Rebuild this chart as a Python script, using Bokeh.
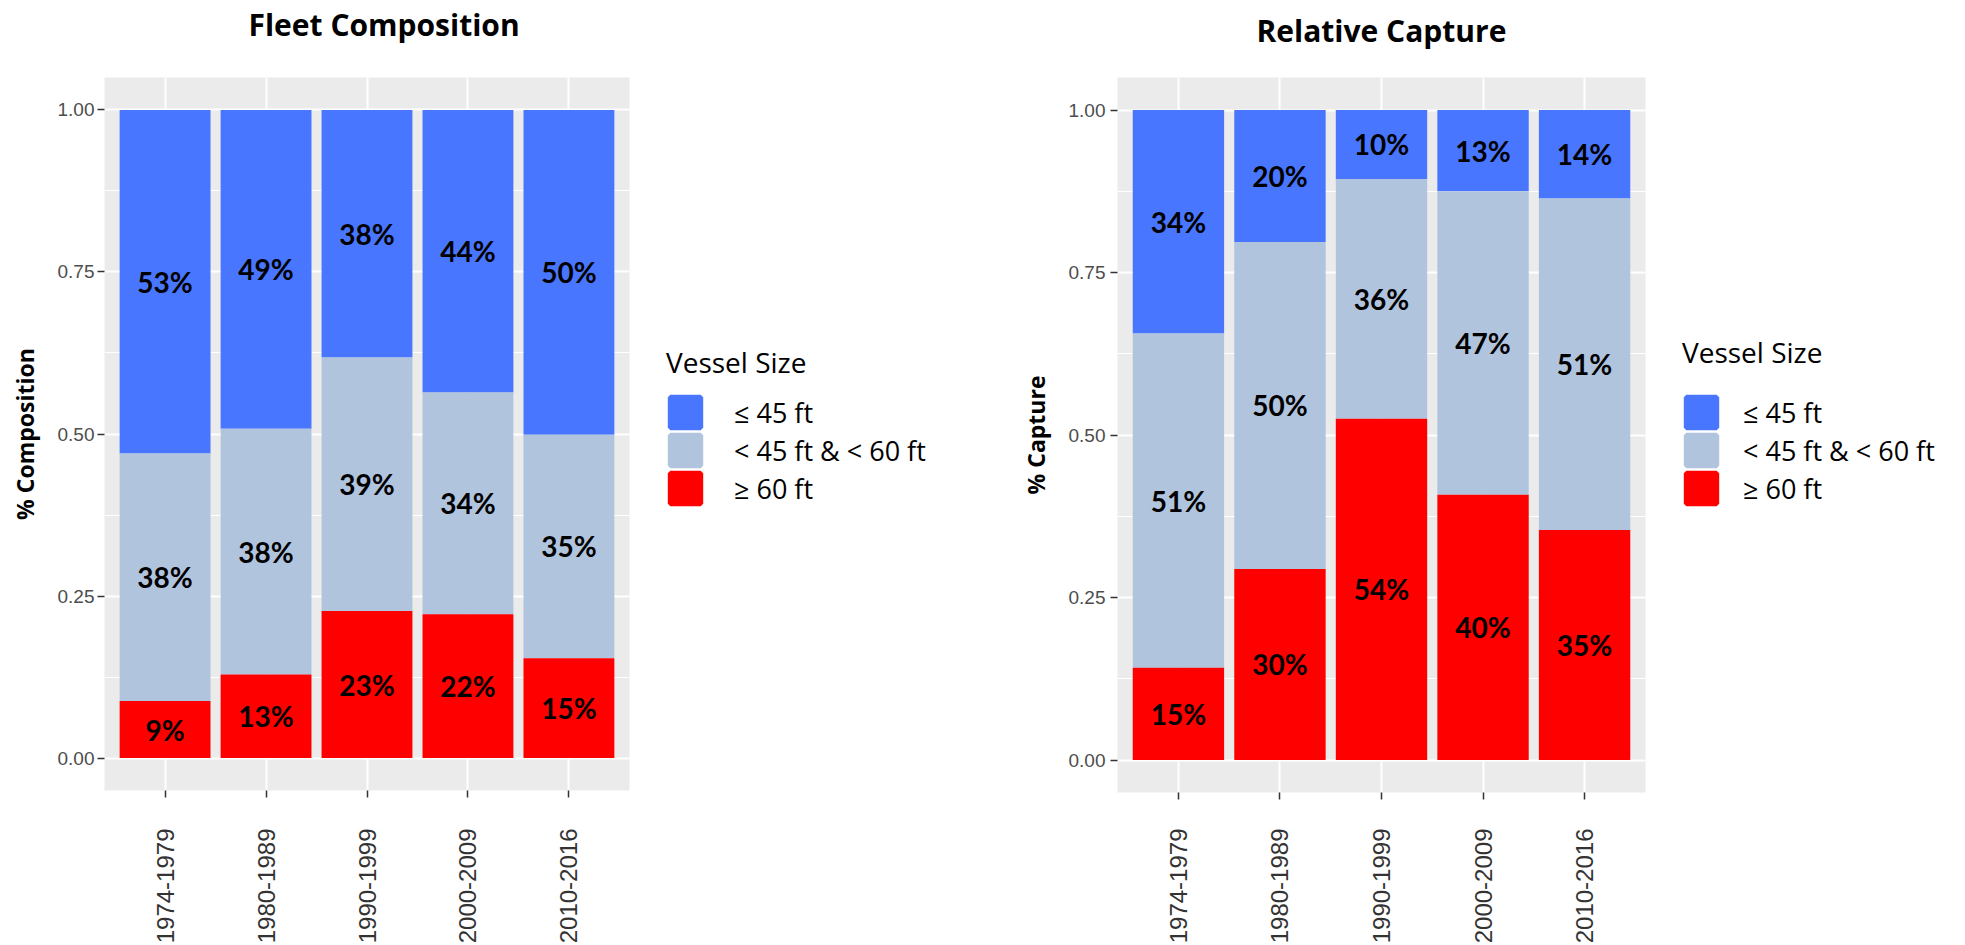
import numpy as np
from bokeh.plotting import figure
from bokeh.models import (ColumnDataSource, Range1d, FixedTicker, Legend,
                          LegendItem, Title, LinearAxis)
from bokeh.layouts import row
from bokeh.core.properties import value
from bokeh.embed import file_html
from bokeh.resources import INLINE

# ---------------- data ----------------
periods = ["1974-1979", "1980-1989", "1990-1999", "2000-2009", "2010-2016"]
size_classes = ["\u2264 45 ft", "< 45 ft & < 60 ft", "\u2265 60 ft"]
size_colors = ["#4876FF", "#B0C4DE", "#FF0000"]

# Fleet composition (shares of fleet)
fleet_small = [0.530, 0.492, 0.382, 0.436, 0.501]
fleet_mid = [0.382, 0.379, 0.391, 0.342, 0.345]
fleet_large = [0.088, 0.129, 0.227, 0.222, 0.154]
fleet_pct_small = [53, 49, 38, 44, 50]
fleet_pct_mid = [38, 38, 39, 34, 35]
fleet_pct_large = [9, 13, 23, 22, 15]

# Relative capture (shares of catch)
capture_small = [0.344, 0.203, 0.106, 0.125, 0.136]
capture_mid = [0.514, 0.503, 0.369, 0.467, 0.510]
capture_large = [0.142, 0.294, 0.525, 0.408, 0.354]
capture_pct_small = [34, 20, 10, 13, 14]
capture_pct_mid = [51, 50, 36, 47, 51]
capture_pct_large = [15, 30, 54, 40, 35]

y_ticks = [0.0, 0.25, 0.5, 0.75, 1.0]
y_minor = [0.125, 0.375, 0.625, 0.875]

BARFONT = "Lato"
FONT = "Open Sans"
TICKFONT = "Liberation Sans"
PAGE_H = 945


def make_panel(title, ylabel, small, mid, large, pct_small, pct_mid, pct_large, lay):
    xs = list(range(1, len(periods) + 1))
    x0, x1 = 0.4, len(periods) + 0.6
    small = np.array(small)
    mid = np.array(mid)
    large = np.array(large)
    top_large = large
    top_mid = large + mid
    top_small = top_mid + small

    p = figure(frame_width=lay["fw"], frame_height=lay["fh"], title=None,
               x_range=Range1d(x0, x1), y_range=Range1d(-0.05, 1.05),
               output_backend="svg", toolbar_location=None,
               min_border_left=lay["left"], min_border_right=lay["right"],
               min_border_top=lay["top"], min_border_bottom=lay["bottom"])
    p.background_fill_color = "#EBEBEB"
    p.border_fill_color = "white"
    p.outline_line_color = None

    segs = [
        (top_mid, top_small, size_colors[0], pct_small),
        (top_large, top_mid, size_colors[1], pct_mid),
        (np.zeros(len(xs)), top_large, size_colors[2], pct_large),
    ]
    sources = []
    for bottom, top, color, pct in segs:
        src = ColumnDataSource(dict(x=xs, bottom=bottom, top=top,
                                    mid=(bottom + top) / 2,
                                    lab=[f"{v}%" for v in pct]))
        sources.append(src)
        p.vbar(x="x", bottom="bottom", top="top", width=0.9, source=src,
               fill_color=color, line_color=None)
        p.text(x="x", y="mid", text="lab", source=src,
               text_font=value(BARFONT), text_font_style="bold",
               text_font_size="28px", text_color="black",
               text_align="center", text_baseline="middle")

    # grids
    p.xgrid.ticker = FixedTicker(ticks=xs)
    p.xgrid.grid_line_color = "white"
    p.xgrid.grid_line_width = 2
    p.ygrid.ticker = FixedTicker(ticks=y_ticks, minor_ticks=y_minor)
    p.ygrid.grid_line_color = "white"
    p.ygrid.grid_line_width = 2
    p.ygrid.minor_grid_line_color = "white"
    p.ygrid.minor_grid_line_width = 1

    # y axis
    ya = p.left[0]
    ya.ticker = FixedTicker(ticks=y_ticks)
    ya.major_label_overrides = {t: f"{t:.2f}" for t in y_ticks}
    ya.axis_line_color = None
    ya.major_tick_line_color = "#333333"
    ya.major_tick_line_width = 1.5
    ya.major_tick_out = 7
    ya.major_tick_in = 0
    ya.minor_tick_line_color = None
    ya.major_label_text_font = TICKFONT
    ya.major_label_text_font_size = "19px"
    ya.major_label_text_color = "#4D4D4D"
    ya.major_label_standoff = lay["ylab_standoff"]
    ya.axis_label = ylabel
    ya.axis_label_text_font = FONT
    ya.axis_label_text_font_style = "bold"
    ya.axis_label_text_font_size = "23px"
    ya.axis_label_text_color = "black"
    ya.axis_label_standoff = 14

    # x axis
    xa = p.below[0]
    xa.ticker = FixedTicker(ticks=xs)
    xa.major_label_overrides = {x: name for x, name in zip(xs, periods)}
    xa.major_label_orientation = np.pi / 2
    xa.axis_line_color = None
    xa.major_tick_line_color = "#333333"
    xa.major_tick_line_width = 1.5
    xa.major_tick_out = 7
    xa.major_tick_in = 0
    xa.minor_tick_line_color = None
    xa.major_label_text_font = TICKFONT
    xa.major_label_text_font_size = "24px"
    xa.major_label_text_color = "#333333"
    xa.major_label_standoff = lay["xlab_standoff"]

    # empty band between the title and the panel (invisible ticks)
    gap = LinearAxis(ticker=FixedTicker(ticks=xs), axis_line_color=None,
                     major_tick_line_color=None, minor_tick_line_color=None,
                     major_tick_out=lay["title_gap"], major_tick_in=0,
                     minor_tick_out=0, major_label_standoff=0,
                     major_label_overrides={x: "" for x in xs},
                     major_label_text_font_size="1px")
    p.add_layout(gap, "above")
    p.add_layout(Title(text=title, align="left", offset=lay["title_offset"],
                       text_font=FONT, text_font_style="bold",
                       text_font_size="30px", text_color="black",
                       standoff=0), "above")
    return p, sources


def make_legend(width, sources, lay):
    n = len(periods)
    lg = figure(width=width, height=PAGE_H, x_axis_type=None, y_axis_type=None,
                x_range=Range1d(n + 2, n + 3), y_range=Range1d(2, 3),
                output_backend="svg", toolbar_location=None,
                min_border=0, min_border_left=0, min_border_right=0,
                min_border_top=0, min_border_bottom=0)
    lg.outline_line_color = None
    lg.background_fill_color = "white"
    lg.border_fill_color = "white"
    # legend keys: same bars as the panel; hidden here, only their legend swatch shows
    rs = []
    for src, c in zip(sources, size_colors):
        r = lg.vbar(x="x", bottom="bottom", top="top", width=0.9, source=src,
                    fill_color=c, line_color=c, line_width=5)
        r.visible = False
        rs.append(r)
    legend = Legend(items=[LegendItem(label=lbl, renderers=[r])
                           for lbl, r in zip(size_classes, rs)],
                    location=lay["loc"], orientation="vertical")
    legend.title = "Vessel Size"
    legend.title_text_font = FONT
    legend.title_text_font_size = "28px"
    legend.title_text_font_style = "normal"
    legend.title_text_color = "black"
    legend.title_standoff = lay["title_standoff"]
    legend.label_text_font = FONT
    legend.label_text_font_size = "27px"
    legend.label_text_color = "black"
    legend.label_standoff = lay["label_standoff"]
    legend.glyph_width = 38
    legend.glyph_height = 38
    legend.label_height = 30
    legend.spacing = 0
    legend.padding = 0
    legend.margin = 0
    legend.inactive_fill_alpha = 0
    legend.border_line_color = None
    legend.background_fill_alpha = 0
    lg.add_layout(legend, "center")
    return lg


p1, src1 = make_panel("Fleet Composition", "% Composition",
                      fleet_small, fleet_mid, fleet_large,
                      fleet_pct_small, fleet_pct_mid, fleet_pct_large,
                      dict(fw=525, fh=713, left=104, right=20, top=77, bottom=155,
                           title_gap=33, title_offset=144,
                           ylab_standoff=3, xlab_standoff=31))
lg1 = make_legend(351, src1, dict(loc=(17, 282), title_standoff=12, label_standoff=30))
p2, src2 = make_panel("Relative Capture", "% Capture",
                      capture_small, capture_mid, capture_large,
                      capture_pct_small, capture_pct_mid, capture_pct_large,
                      dict(fw=528, fh=715, left=117, right=20, top=77, bottom=153,
                           title_gap=27, title_offset=139,
                           ylab_standoff=5, xlab_standoff=29))
lg2 = make_legend(295, src2, dict(loc=(17, 282), title_standoff=22, label_standoff=23))

layout = row(p1, lg1, p2, lg2)
open("out.html", "w").write(file_html(layout, INLINE))
